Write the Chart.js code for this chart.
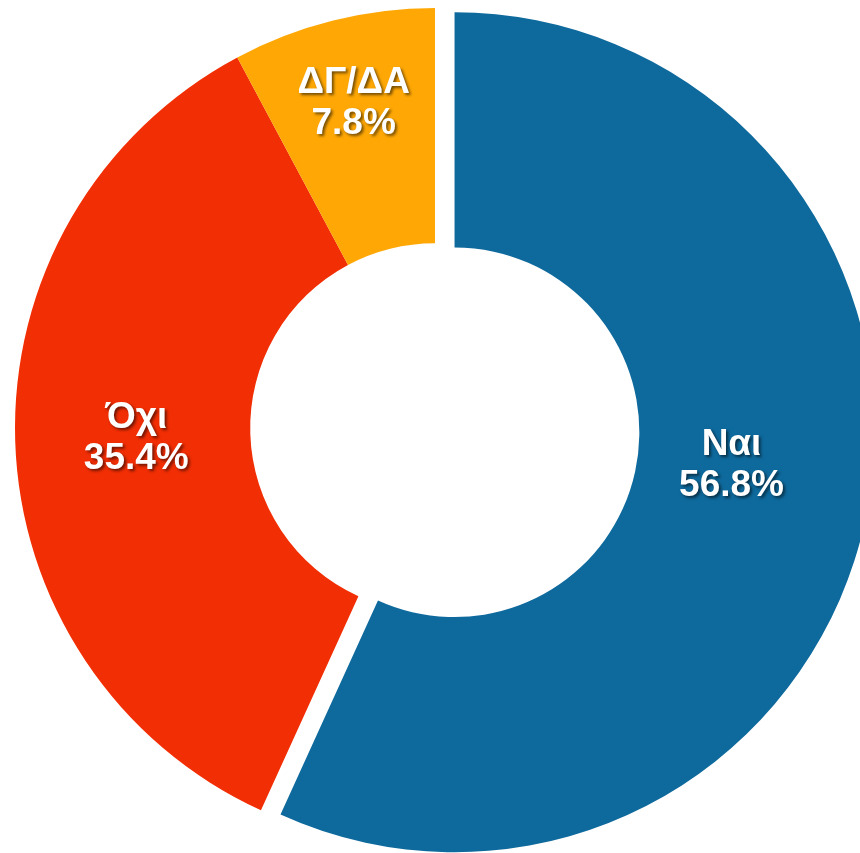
<!DOCTYPE html>
<html>
<head>
<meta charset="utf-8">
<script src="https://cdn.jsdelivr.net/npm/chart.js@4.4.0/dist/chart.umd.min.js"></script>
<style>
    html, body { margin: 0; padding: 0; background: #ffffff; }
    #wrap { width: 860px; height: 853px; position: relative; }
</style>
</head>
<body>
<div id="wrap"><canvas id="vote-chart"></canvas></div>
<script>
const labels = ['Ναι', 'Όχι', 'ΔΓ/ΔΑ'];
const values = [56.8, 35.4, 7.8];
const colors = ['#0e699c', '#f22e04', '#ffa805'];
const explode = [20, 0, 0];

// pulls a slice straight out along its middle angle, keeping its radii
const explodePlugin = {
    id: 'explodeSlices',
    beforeDatasetsDraw(chart) {
        const meta = chart.getDatasetMeta(0);
        meta.data.forEach((arc, i) => {
            if (!explode[i] || arc._exploded) return;
            const baseDraw = arc.draw;
            arc.draw = function(c) {
                const mid = (this.startAngle + this.endAngle) / 2;
                c.save();
                c.translate(Math.cos(mid) * explode[i], Math.sin(mid) * explode[i]);
                baseDraw.call(this, c);
                c.restore();
            };
            arc._exploded = true;
        });
    }
};

// draws "name / value%" inside each slice, following the arc geometry
const sliceLabels = {
    id: 'sliceLabels',
    afterDatasetsDraw(chart, args, opts) {
        const ctx = chart.ctx;
        const meta = chart.getDatasetMeta(0);
        meta.data.forEach((arc, i) => {
            const p = arc.getProps(['x', 'y', 'startAngle', 'endAngle', 'innerRadius', 'outerRadius'], true);
            const mid = (p.startAngle + p.endAngle) / 2;
            const ang = p.startAngle + (p.endAngle - p.startAngle) * opts.angle[i];
            const cx = p.x + Math.cos(mid) * explode[i];
            const cy = p.y + Math.sin(mid) * explode[i];
            const r = p.innerRadius + (p.outerRadius - p.innerRadius) * opts.radius[i];
            const x = cx + Math.cos(ang) * r;
            const y = cy + Math.sin(ang) * r;
            ctx.save();
            ctx.font = 'bold 37px "Liberation Sans"';
            ctx.fillStyle = '#ffffff';
            ctx.textAlign = 'center';
            ctx.textBaseline = 'middle';
            ctx.shadowColor = 'rgba(0,0,0,0.55)';
            ctx.shadowBlur = 3;
            ctx.shadowOffsetX = 2;
            ctx.shadowOffsetY = 2;
            ctx.fillText(labels[i], x, y - 20);
            ctx.fillText(values[i].toFixed(1) + '%', x, y + 21);
            ctx.restore();
        });
    }
};

const ctx = document.getElementById('vote-chart').getContext('2d');

new Chart(ctx, {
    type: 'doughnut',
    data: {
        labels: labels,
        datasets: [{
            data: values,
            backgroundColor: colors,
            borderWidth: 0
        }]
    },
    options: {
        responsive: true,
        maintainAspectRatio: false,
        animation: false,
        radius: 420,
        cutout: 187,
        layout: {
            padding: { left: 10, right: 0, top: 3, bottom: 0 }
        },
        plugins: {
            legend: { display: false },
            tooltip: { enabled: false },
            sliceLabels: { radius: [0.4, 0.485, 0.64], angle: [0.473, 0.5, 0.5] }
        }
    },
    plugins: [explodePlugin, sliceLabels]
});
</script>
</body>
</html>
